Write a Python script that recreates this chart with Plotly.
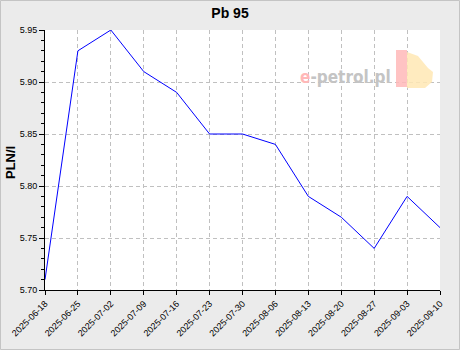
import plotly.graph_objects as go

dates = ["2025-06-18", "2025-06-25", "2025-07-02", "2025-07-09", "2025-07-16",
         "2025-07-23", "2025-07-30", "2025-08-06", "2025-08-13", "2025-08-20",
         "2025-08-27", "2025-09-03", "2025-09-10"]
prices = [5.71, 5.93, 5.95, 5.91, 5.89, 5.85, 5.85, 5.84, 5.79, 5.77, 5.74, 5.79, 5.76]
y_ticks = [5.70, 5.75, 5.80, 5.85, 5.90, 5.95]

W, H = 460, 350
L, R, T, B = 45, 20, 30, 60
pw, ph = W - L - R, H - T - B


def px(x):
    return (x - L) / pw


def py(y):
    return 1 - (y - T) / ph


fig = go.Figure()
fig.add_trace(go.Scatter(x=dates, y=prices, mode="lines",
                         line=dict(color="#0000ff", width=1)))

fig.update_layout(
    width=W, height=H,
    margin=dict(l=L, r=R, t=T, b=B, autoexpand=False),
    paper_bgcolor="#ebebeb", plot_bgcolor="#ffffff",
    showlegend=False,
    font=dict(family="Liberation Sans, Arial, sans-serif", size=9, color="#000000"),
    title=dict(text="<b>Pb 95</b>", x=0.5, xanchor="center", y=1 - 13 / H,
               yanchor="middle", font=dict(size=14)),
)
fig.update_xaxes(
    type="category", tickvals=dates, ticktext=dates, tickangle=-45,
    range=[0, len(dates) - 1], automargin=False,
    showline=True, linecolor="#000000", linewidth=1,
    ticks="outside", ticklen=4, tickcolor="#000000",
    showgrid=True, gridcolor="#c0c0c0", griddash="4px,3px", gridwidth=1,
    zeroline=False,
)
fig.update_yaxes(
    range=[5.70, 5.95], tickvals=y_ticks, ticktext=[f"{v:.2f}" for v in y_ticks],
    automargin=False,
    showline=True, linecolor="#000000", linewidth=1,
    ticks="outside", ticklen=5, tickcolor="#000000",
    minor=dict(dtick=0.01, ticks="outside", ticklen=3, tickcolor="#000000", showgrid=False),
    showgrid=True, gridcolor="#c0c0c0", griddash="4px,3px", gridwidth=1,
    zeroline=False,
)

# y axis title
fig.add_annotation(xref="paper", yref="paper", x=px(10), y=py(163),
                   xanchor="center", yanchor="middle", showarrow=False, textangle=-90,
                   text="<b>PLN/l</b>", font=dict(size=13, color="#000000"))

# watermark
fig.add_shape(type="rect", xref="paper", yref="paper",
              x0=px(396), x1=px(407), y0=py(87), y1=py(50),
              fillcolor="#ffb8b8", line=dict(width=0), layer="above", opacity=0.85)
fig.add_shape(type="path", xref="paper", yref="paper",
              path=f"M {px(407)},{py(52)} L {px(418)},{py(56)} L {px(428)},{py(68)} "
                   f"L {px(433)},{py(72)} L {px(432)},{py(82)} L {px(425)},{py(88)} "
                   f"L {px(407)},{py(88)} Z",
              fillcolor="#ffe8b4", line=dict(width=0), layer="above", opacity=0.85)
fig.add_annotation(xref="paper", yref="paper", x=px(393), y=py(77),
                   xanchor="right", yanchor="middle", showarrow=False,
                   text="<b><span style='color:#ffb8b8'>e</span>-petrol.pl</b>",
                   font=dict(size=17, color="#c4c4c4",
                             family="Liberation Sans Narrow, DejaVu Sans Condensed, sans-serif"))

# outer border
fig.add_shape(type="rect", xref="paper", yref="paper",
              x0=-(L - 0.5) / pw, x1=1 + (R - 0.5) / pw, y0=-(B - 0.5) / ph, y1=1 + (T - 0.5) / ph,
              line=dict(color="#c4c4c4", width=1), fillcolor="rgba(0,0,0,0)", layer="below")

fig.write_html("out.html")
